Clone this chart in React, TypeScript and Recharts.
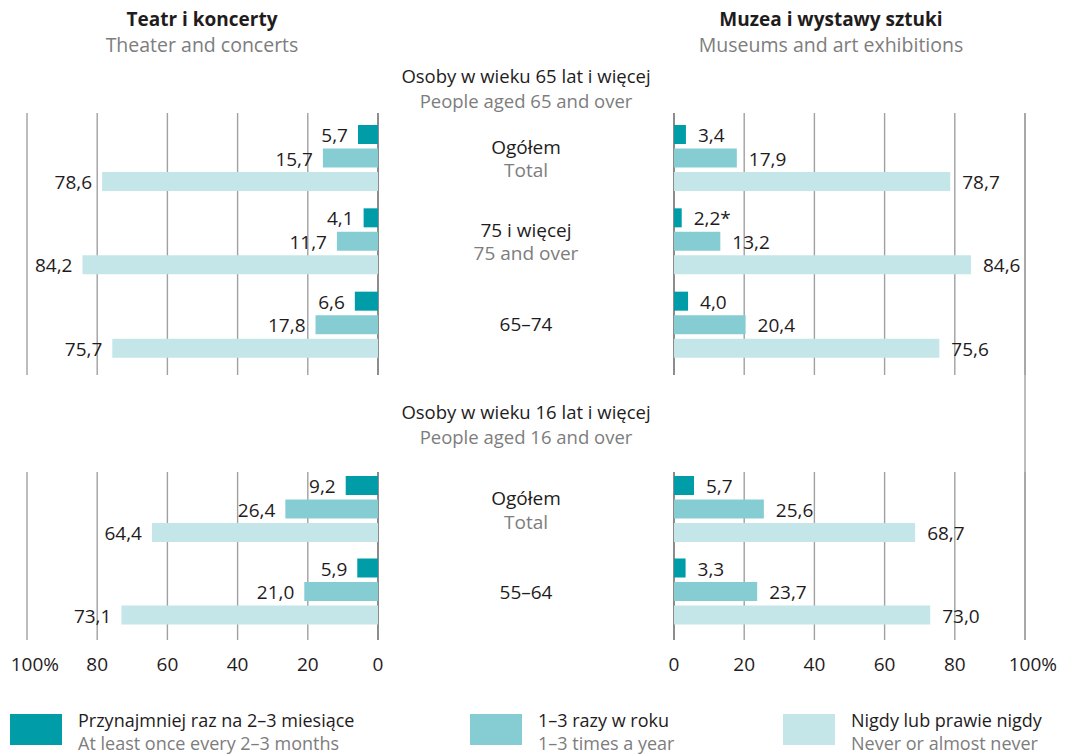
import React from 'react';
import { BarChart, Bar, XAxis, YAxis, CartesianGrid, LabelList } from 'recharts';

// ---------- data ----------
const groupPl = ['Ogółem', '75 i więcej', '65–74', 'Ogółem', '55–64'];
const groupEn = ['Total', '75 and over', '', 'Total', ''];
const groupSection = [0, 0, 0, 1, 1];

const sectionPl = ['Osoby w wieku 65 lat i więcej', 'Osoby w wieku 16 lat i więcej'];
const sectionEn = ['People aged 65 and over', 'People aged 16 and over'];

const theatreOften = [5.7, 4.1, 6.6, 9.2, 5.9];
const theatreYearly = [15.7, 11.7, 17.8, 26.4, 21.0];
const theatreNever = [78.6, 84.2, 75.7, 64.4, 73.1];
const theatreNotes = ['', '', '', '', ''];

const museumOften = [3.4, 2.2, 4.0, 5.7, 3.3];
const museumYearly = [17.9, 13.2, 20.4, 25.6, 23.7];
const museumNever = [78.7, 84.6, 75.6, 68.7, 73.0];
const museumNotes = ['', '*', '', '', ''];

const panelTitlePl = ['Teatr i koncerty', 'Muzea i wystawy sztuki'];
const panelTitleEn = ['Theater and concerts', 'Museums and art exhibitions'];

const seriesKeys = ['often', 'yearly', 'never'];
const seriesPl = ['Przynajmniej raz na 2–3 miesiące', '1–3 razy w roku', 'Nigdy lub prawie nigdy'];
const seriesEn = ['At least once every 2–3 months', '1–3 times a year', 'Never or almost never'];
const seriesColors = ['#009ca8', '#86cdd3', '#c5e6e8'];

const xTicks = [0, 20, 40, 60, 80, 100];

// ---------- layout ----------
const W = 1066;
const H = 755;
const LEFT_X0 = 27;
const LEFT_X1 = 378;
const RIGHT_X0 = 674;
const RIGHT_X1 = 1025;
const UP_TOP = 113;
const UP_BOTTOM = 375;
const LOW_PLOT_TOP = 465;
const LOW_GRID_TOP = 472;
const LOW_BOTTOM = 640;
const GAP_CENTER = (RIGHT_X0 - LEFT_X1) / 2;

const FONT = "'Open Sans', 'Noto Sans', sans-serif";
const DARK = '#1f1c1d';
const GREY = '#7d7d7d';
const GRID = '#a0a0a0';
const ZERO = '#707070';

const fmt = (v: number) => v.toFixed(1).replace('.', ',');

function buildRows(often: number[], yearly: number[], never: number[], notes: string[]) {
  return groupPl.map((pl, i) => ({
    id: groupEn[i] ? `${pl}\n${groupEn[i]}` : pl,
    section: groupSection[i],
    often: often[i],
    yearly: yearly[i],
    never: never[i],
    oftenLabel: fmt(often[i]) + notes[i],
    yearlyLabel: fmt(yearly[i]),
    neverLabel: fmt(never[i]),
  }));
}

const theatreRows = buildRows(theatreOften, theatreYearly, theatreNever, theatreNotes);
const museumRows = buildRows(museumOften, museumYearly, museumNever, museumNotes);

const makeLabel = (side: 'left' | 'right') => (props: any) => {
  const vb = props.viewBox ?? props;
  const x = Number(vb.x ?? props.x);
  const y = Number(vb.y ?? props.y);
  const w = Number(vb.width ?? props.width);
  const h = Number(vb.height ?? props.height);
  const a = Math.min(x, x + w);
  const b = Math.max(x, x + w);
  const tx = side === 'left' ? a - 10 : b + 12;
  return (
    <text
      x={tx}
      y={y + h / 2}
      dy="0.4em"
      textAnchor={side === 'left' ? 'end' : 'start'}
      fontFamily={FONT}
      fontSize={19}
      fill={DARK}
    >
      {props.value}
    </text>
  );
};

const GroupTick = (props: any) => {
  const { x, y, payload } = props;
  const [pl, en] = String(payload.value).split('\n');
  const cx = Number(x) + GAP_CENTER;
  if (!en) {
    return (
      <text x={cx} y={y} dy="0.36em" textAnchor="middle" fontFamily={FONT} fontSize={19} fill={DARK}>
        {pl}
      </text>
    );
  }
  return (
    <g>
      <text x={cx} y={Number(y) - 11} dy="0.36em" textAnchor="middle" fontFamily={FONT} fontSize={19} fill={DARK}>
        {pl}
      </text>
      <text x={cx} y={Number(y) + 12.5} dy="0.36em" textAnchor="middle" fontFamily={FONT} fontSize={19} fill={GREY}>
        {en}
      </text>
    </g>
  );
};

const PctTick = (props: any) => {
  const { x, y, payload } = props;
  const v = payload.value;
  const isMax = v === 100;
  return (
    <text
      x={x}
      y={y}
      dy="0.71em"
      dx={isMax ? '-0.86em' : 0}
      textAnchor={isMax ? 'start' : 'middle'}
      fontFamily={FONT}
      fontSize={19}
      fill={DARK}
    >
      {isMax ? `${v}%` : v}
    </text>
  );
};

type ChartProps = {
  side: 'left' | 'right';
  rows: any[];
  lower: boolean;
};

function PanelChart({ side, rows, lower }: ChartProps) {
  const isLeft = side === 'left';
  const plotTop = lower ? LOW_PLOT_TOP : UP_TOP;
  const plotBottom = lower ? LOW_BOTTOM : UP_BOTTOM;
  const gridTop = lower ? LOW_GRID_TOP : UP_TOP;
  const gridH = plotBottom - gridTop;
  const xAxisH = lower ? 30 : 0;
  const yAxisW = isLeft ? RIGHT_X0 - LEFT_X1 : 0;
  const margin = isLeft
    ? { top: plotTop, bottom: H - plotBottom - xAxisH, left: LEFT_X0, right: W - LEFT_X1 - yAxisW }
    : { top: plotTop, bottom: H - plotBottom - xAxisH, left: RIGHT_X0, right: W - RIGHT_X1 };
  const padding = lower ? { top: 3, bottom: 7 } : { top: 3, bottom: 9 };
  const label = makeLabel(side);
  return (
    <div style={{ position: 'absolute', left: 0, top: 0 }}>
      <BarChart width={W} height={H} data={rows} layout="vertical" margin={margin} barGap={4.5}>
        <CartesianGrid horizontal={false} stroke={GRID} strokeWidth={1.4} y={gridTop} height={gridH} verticalValues={[20, 40, 60, 80, 100]} />
        <CartesianGrid horizontal={false} stroke={ZERO} strokeWidth={1.6} y={gridTop} height={gridH} verticalValues={[0]} />
        {!isLeft && !lower && (
          <CartesianGrid horizontal={false} stroke={GRID} strokeWidth={1.4} y={UP_TOP} height={LOW_BOTTOM - UP_TOP} verticalValues={[100]} />
        )}
        <XAxis
          type="number"
          domain={[0, 100]}
          ticks={xTicks}
          reversed={isLeft}
          hide={!lower}
          height={xAxisH}
          axisLine={false}
          tickLine={false}
          tickSize={0}
          tickMargin={18}
          tick={<PctTick />}
          interval={0}
        />
        <YAxis
          type="category"
          dataKey="id"
          orientation="right"
          hide={!isLeft}
          width={yAxisW}
          axisLine={false}
          tickLine={false}
          tickSize={0}
          tickMargin={0}
          padding={padding}
          tick={<GroupTick />}
          interval={0}
        />
        {seriesKeys.map((k, i) => (
          <Bar key={k} dataKey={k} fill={seriesColors[i]} barSize={19} isAnimationActive={false}>
            <LabelList dataKey={`${k}Label`} content={label} />
          </Bar>
        ))}
      </BarChart>
    </div>
  );
}

export default function App() {
  const upperT = theatreRows.filter((r) => r.section === 0);
  const lowerT = theatreRows.filter((r) => r.section === 1);
  const upperM = museumRows.filter((r) => r.section === 0);
  const lowerM = museumRows.filter((r) => r.section === 1);
  const sectionTops = [64, 400];
  const legendX = [10, 470, 783];
  return (
    <div style={{ position: 'absolute', left: 0, top: 0, width: W, height: H, background: '#fff', fontFamily: FONT, color: DARK, overflow: 'hidden' }}>
      {/* panel titles */}
      {[0, 1].map((p) => (
        <div
          key={p}
          style={{ position: 'absolute', top: 7, left: p === 0 ? 2 : 631, width: 400, textAlign: 'center', lineHeight: '25px' }}
        >
          <div style={{ fontWeight: 700, fontSize: 19 }}>{panelTitlePl[p]}</div>
          <div style={{ fontSize: 19.5, color: GREY }}>{panelTitleEn[p]}</div>
        </div>
      ))}
      {/* section titles */}
      {[0, 1].map((s) => (
        <div
          key={s}
          style={{ position: 'absolute', top: sectionTops[s], left: 326, width: 400, textAlign: 'center', lineHeight: '24.5px', fontSize: 18.5 }}
        >
          <div>{sectionPl[s]}</div>
          <div style={{ color: GREY }}>{sectionEn[s]}</div>
        </div>
      ))}
      <PanelChart side="left" rows={upperT} lower={false} />
      <PanelChart side="left" rows={lowerT} lower={true} />
      <PanelChart side="right" rows={upperM} lower={false} />
      <PanelChart side="right" rows={lowerM} lower={true} />
      {/* legend */}
      {seriesKeys.map((k, i) => (
        <div key={k} style={{ position: 'absolute', left: legendX[i], top: 709, display: 'flex', alignItems: 'flex-start' }}>
          <div style={{ width: 52, height: 31, marginTop: 5, background: seriesColors[i] }} />
          <div style={{ marginLeft: 16, fontSize: 18, lineHeight: '23px' }}>
            <div>{seriesPl[i]}</div>
            <div style={{ color: GREY }}>{seriesEn[i]}</div>
          </div>
        </div>
      ))}
    </div>
  );
}
